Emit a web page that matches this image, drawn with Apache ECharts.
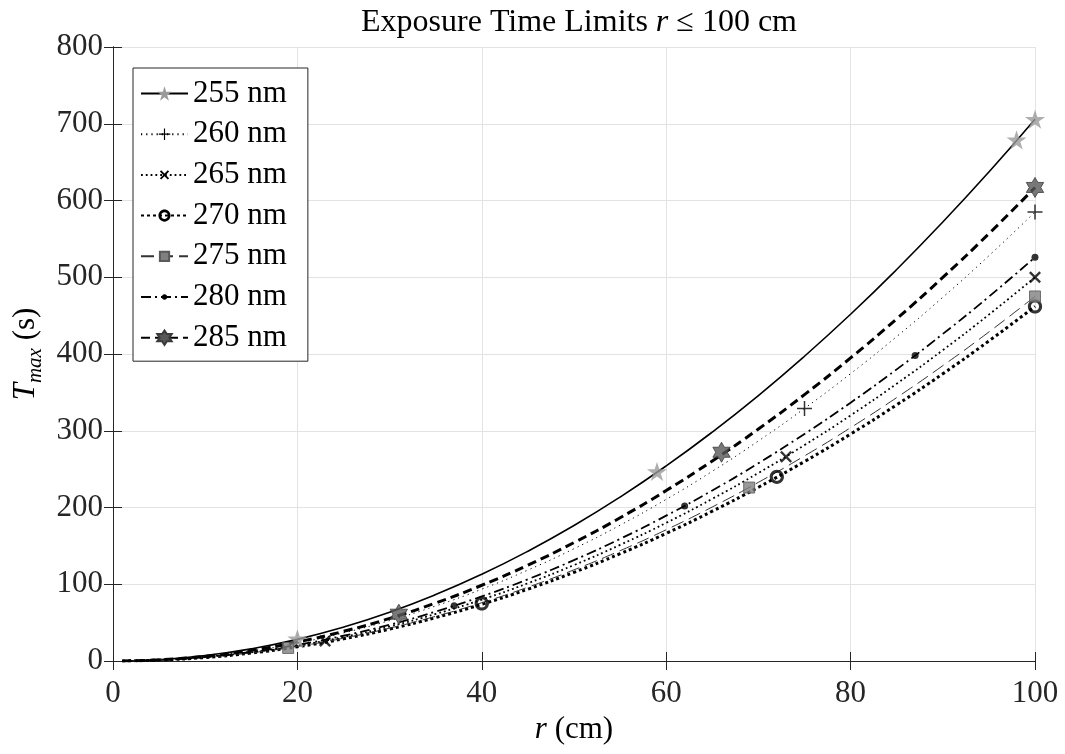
<!DOCTYPE html>
<html>
<head>
<meta charset="utf-8">
<script src="https://cdn.jsdelivr.net/npm/echarts@6/dist/echarts.min.js"></script>
<style>html,body{margin:0;padding:0;background:#fff}#c{width:1065px;height:754px}</style>
</head>
<body>
<div id="c"></div>
<script>
// ---- data ----
const seriesNames = ['255 nm','260 nm','265 nm','270 nm','275 nm','280 nm','285 nm'];
const rSamples = [1,5,10,15,20,25,30,35,40,45,50,55,60,65,70,75,80,85,90,95,100];
const t255 = [0.07,1.8,7.1,15.9,28.2,44.1,63.5,86.5,113.0,143.0,176.5,213.6,254.2,298.3,345.9,397.1,451.8,510.1,571.9,637.2,706];
const t260 = [0.06,1.5,5.9,13.2,23.4,36.6,52.7,71.7,93.6,118.5,146.3,177.0,210.6,247.2,286.7,329.1,374.4,422.7,473.9,528.0,585];
const t265 = [0.05,1.3,5.0,11.3,20.0,31.3,45.0,61.3,80.0,101.3,125.0,151.3,180.0,211.3,245.0,281.3,320.0,361.3,405.0,451.3,500];
const t270 = [0.05,1.2,4.6,10.4,18.5,28.9,41.6,56.6,73.9,93.6,115.5,139.8,166.3,195.2,226.4,259.9,295.7,333.8,374.2,417.0,462];
const t275 = [0.05,1.2,4.8,10.7,19.0,29.7,42.8,58.2,76.0,96.2,118.8,143.7,171.0,200.7,232.8,267.2,304.0,343.2,384.8,428.7,475];
const t280 = [0.05,1.3,5.3,11.8,21.0,32.9,47.3,64.4,84.2,106.5,131.5,159.1,189.4,222.2,257.7,295.9,336.6,380.0,426.1,474.7,526];
const t285 = [0.06,1.5,6.2,13.9,24.7,38.6,55.5,75.6,98.7,124.9,154.3,186.6,222.1,260.7,302.3,347.1,394.9,445.8,499.8,556.8,617];

const m255 = [[20,29],[59,247],[98,679],[100,706]];
const m260 = [[75,329],[100,585]];
const m265 = [[23,26],[73,266],[100,500]];
const m270 = [[40,75],[72,240],[100,462]];
const m275 = [[19,17],[69,226],[100,475]];
const m280 = [[37,72],[62,202],[87,398],[100,526]];
const m285 = [[31,61],[66,272],[100,617]];

const xTicks = {min:0, max:100, step:20};
const yTicks = {min:0, max:800, step:100};

// ---- styling ----
const FONT = 'Liberation Serif';
const STAR = 'path://M50,0 L61.23,34.55 L97.55,34.55 L68.17,55.9 L79.39,90.45 L50,69.1 L20.61,90.45 L31.83,55.9 L2.45,34.55 L38.77,34.55 Z';
const HEX = 'path://M50,0 L64.43,24.97 L93.3,25 L78.87,50 L93.3,75 L64.43,75.03 L50,100 L35.57,75.03 L6.7,75 L21.13,50 L6.7,25 L35.57,24.97 Z';
const PLUS = 'path://M45,0 L55,0 L55,45 L100,45 L100,55 L55,55 L55,100 L45,100 L45,55 L0,55 L0,45 L45,45 Z';
const CROSS = 'path://M0,14 L14,0 L50,36 L86,0 L100,14 L64,50 L100,86 L86,100 L50,64 L14,100 L0,86 L36,50 Z';
const RING = 'path://M0,0 M100,100 M50,8 C73.2,8 92,26.8 92,50 C92,73.2 73.2,92 50,92 C26.8,92 8,73.2 8,50 C8,26.8 26.8,8 50,8 Z M50,26 C36.75,26 26,36.75 26,50 C26,63.25 36.75,74 50,74 C63.25,74 74,63.25 74,50 C74,36.75 63.25,26 50,26 Z';
// legend-sized variants (padded inside a 100x100 box)
const PLUS_L = 'path://M0,0 M100,100 M46,10 L54,10 L54,46 L90,46 L90,54 L54,54 L54,90 L46,90 L46,54 L10,54 L10,46 L46,46 Z';
const CROSS_L = 'path://M0,0 M100,100 M18,27 L27,18 L50,41 L73,18 L82,27 L59,50 L82,73 L73,82 L50,59 L27,82 L18,73 L41,50 Z';
const RECT_L = 'path://M0,0 M100,100 M18,18 L82,18 L82,82 L18,82 Z';
const DOT_L = 'path://M0,0 M100,100 M50,31 C60.5,31 69,39.5 69,50 C69,60.5 60.5,69 50,69 C39.5,69 31,60.5 31,50 C31,39.5 39.5,31 50,31 Z';

const styles = [
  {vals:t255, mk:m255, line:{color:'#000', width:1.6, type:'solid'}, lsym:STAR, symbol:STAR, size:20, item:{color:'#9a9a9a'}},
  {vals:t260, mk:m260, line:{color:'#000', width:1, type:[1.2,4]}, lsym:PLUS_L, symbol:PLUS, size:15, item:{color:'#000'}},
  {vals:t265, mk:m265, line:{color:'#000', width:1.8, type:[1.8,3]}, lsym:CROSS_L, symbol:CROSS, size:12, item:{color:'#000'}},
  {vals:t270, mk:m270, line:{color:'#000', width:3, type:[3,3]}, lsym:RING, symbol:RING, size:17, item:{color:'#000'}},
  {vals:t275, mk:m275, line:{color:'#333', width:1, type:[13,6]}, lsym:RECT_L, symbol:'rect', size:11, item:{color:'#808080', borderColor:'#5a5a5a', borderWidth:1}},
  {vals:t280, mk:m280, line:{color:'#000', width:1.8, type:[10,4,2,4]}, lsym:DOT_L, symbol:'circle', size:7, item:{color:'#000'}},
  {vals:t285, mk:m285, line:{color:'#000', width:3, type:[9,5]}, lsym:HEX, symbol:HEX, size:20, item:{color:'#575757', borderColor:'#3a3a3a', borderWidth:1}}
];

const series = [];
styles.forEach((s, i) => {
  series.push({
    name: seriesNames[i], type:'line', smooth:true, showSymbol:false,
    symbol: s.lsym, symbolKeepAspect:true,
    data: rSamples.map((r, k) => [r, s.vals[k]]),
    lineStyle: s.line, itemStyle: s.item, z: 2, silent:true
  });
});
styles.forEach((s, i) => {
  series.push({
    name: seriesNames[i] + ' markers', type:'scatter',
    symbol: s.symbol, symbolSize: s.size, symbolKeepAspect:true,
    data: s.mk, itemStyle: s.item, z: 3, silent:true
  });
});

const axisLineStyle = {color:'#262626', width:1};
const labelStyle = {fontFamily:FONT, fontSize:31, color:'#262626'};

const option = {
  animation:false,
  backgroundColor:'#fff',
  title:{
    text:'{a|Exposure Time Limits }{i|r}{a| ≤ 100 cm}',
    left:574, textAlign:'center', top:2,
    textStyle:{rich:{
      a:{fontFamily:FONT, fontSize:32, fontWeight:'normal', color:'#000'},
      i:{fontFamily:FONT, fontSize:32, fontWeight:'normal', fontStyle:'italic', color:'#000'}
    }}
  },
  grid:{left:113, right:30, top:47, bottom:93, containLabel:false},
  legend:{
    data: seriesNames,
    orient:'vertical', left:133, top:68,
    padding:[10,21,8,7], itemGap:9.7, itemWidth:47, itemHeight:18,
    borderColor:'#262626', borderWidth:1, backgroundColor:'#fff',
    textStyle:{fontFamily:FONT, fontSize:31, color:'#000', lineHeight:31},
    selectedMode:false
  },
  xAxis:[{
    type:'value', min:xTicks.min, max:xTicks.max, interval:xTicks.step,
    position:'bottom',
    name:'{i|r}{a| (cm)}', nameLocation:'middle', nameGap:43,
    nameTextStyle:{rich:{
      a:{fontFamily:FONT, fontSize:31, color:'#000'},
      i:{fontFamily:FONT, fontSize:31, fontStyle:'italic', color:'#000'}
    }},
    axisLine:{show:true, lineStyle:axisLineStyle},
    axisTick:{show:true, inside:true, length:9, lineStyle:axisLineStyle},
    axisLabel:Object.assign({margin:17}, labelStyle),
    splitLine:{show:true, lineStyle:{color:'#e3e3e3', width:1}}
  },{
    type:'value', min:xTicks.min, max:xTicks.max, interval:xTicks.step,
    position:'top',
    axisLine:{show:true, lineStyle:axisLineStyle},
    axisTick:{show:true, inside:true, length:9, lineStyle:axisLineStyle},
    axisLabel:{show:false}, splitLine:{show:false}
  }],
  yAxis:[{
    type:'value', min:yTicks.min, max:yTicks.max, interval:yTicks.step,
    position:'left',
    name:'{t|T}{s|max}{a| (s)}', nameLocation:'middle', nameGap:64,
    nameTextStyle:{rich:{
      t:{fontFamily:FONT, fontSize:31, fontStyle:'italic', color:'#000', lineHeight:40},
      s:{fontFamily:FONT, fontSize:21, fontStyle:'italic', color:'#000', lineHeight:22, verticalAlign:'bottom'},
      a:{fontFamily:FONT, fontSize:31, color:'#000', lineHeight:40}
    }},
    axisLine:{show:true, lineStyle:axisLineStyle},
    axisTick:{show:true, inside:true, length:9, lineStyle:axisLineStyle},
    axisLabel:Object.assign({margin:10}, labelStyle),
    splitLine:{show:true, lineStyle:{color:'#e3e3e3', width:1}}
  },{
    type:'value', min:yTicks.min, max:yTicks.max, interval:yTicks.step,
    position:'right',
    axisLine:{show:true, lineStyle:axisLineStyle},
    axisTick:{show:true, inside:true, length:9, lineStyle:axisLineStyle},
    axisLabel:{show:false}, splitLine:{show:false}
  }],
  series: series
};

const chart = echarts.init(document.getElementById('c'), null, {renderer:'canvas'});
chart.setOption(option);
</script>
</body>
</html>
